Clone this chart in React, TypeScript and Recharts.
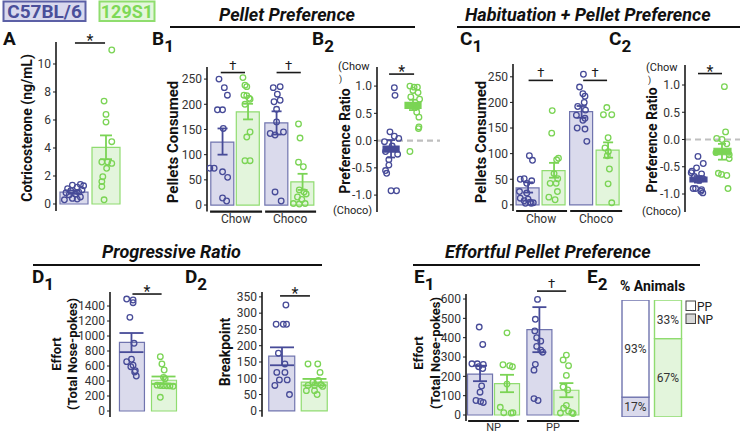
import React from "react";
import {
  ComposedChart,
  BarChart,
  Bar,
  Scatter,
  XAxis,
  YAxis,
  ErrorBar,
  ReferenceLine,
  Cell,
  LabelList,
} from "recharts";

const FONT = "Roboto, 'Noto Sans', sans-serif";
const INK = "#1a1a1a";
const LINE = ["#474b98", "#7bd455"]; // C57BL/6, 129S1
const FILL = ["#dadaec", "#e3f5dc"];
const EDGE = ["#7074ae", "#90dc70"];

// A - corticosterone
const aC57 = [1.4, 1.35, 1.3, 1.2, 1.1, 1.0, 0.95, 0.85, 0.8, 0.7, 0.65, 0.5, 0.4, 0.35, 0.3];
const aC57Jit = [0.2, -0.05, 0.3, 0.1, -0.2, 0.25, -0.1, 0.15, -0.25, 0.05, -0.15, 0.2, -0.05, 0.1, -0.3];
const aS129 = [11.0, 7.35, 6.4, 5.85, 4.45, 3.0, 3.0, 2.9, 2.55, 1.95, 1.6, 1.25, 0.3];
const aS129Jit = [0.18, -0.06, 0, 0, 0.18, -0.13, 0.05, 0.18, 0.02, -0.1, -0.13, -0.13, -0.06];
const aMeans = [0.85, 4.05];
const aErr = [[0.12, 0.12], [0.85, 0.85]];

// B1 - pellets consumed
const b1C57Chow = [250, 233, 218, 189, 189, 152, 73, 73, 66, 55, 14, 8];
const b1C57ChowJit = [-0.14, 0.07, 0.19, -0.2, 0, 0.03, -0.5, -0.33, 0, 0.2, 0, 0.16];
const b1S129Chow = [253, 238, 235, 218, 217, 212, 210, 200, 145, 135, 88, 88];
const b1S129ChowJit = [-0.2, -0.12, -0.05, -0.16, -0.05, 0.04, 0.08, -0.12, 0.08, -0.05, -0.12, 0.08];
const b1C57Choco = [235, 233, 220, 208, 205, 190, 165, 145, 142, 139, 26, 8];
const b1C57ChocoJit = [0.14, -0.13, 0.03, 0.14, -0.1, 0, 0, 0.27, -0.25, -0.06, -0.06, 0.18];
const b1S129Choco = [161, 133, 85, 76, 30, 26, 22, 16, 11, 3, 2, 3];
const b1S129ChocoJit = [-0.16, -0.1, -0.16, 0.03, -0.13, 0.06, 0.14, -0.2, -0.03, -0.36, -0.13, 0.1];
const b1Means = [125, 185, 163, 46];
const b1Err = [[25, 27], [15, 16], [23, 23], [16, 16]];

// B2 - preference ratio
const b2C57 = [0.97, 0.83, 0.16, 0.08, 0.04, -0.02, -0.1, -0.2, -0.25, -0.35, -0.45, -0.55, -0.6, -0.92, -0.92];
const b2C57Jit = [0.15, 0.18, -0.05, 0.15, 0.35, -0.3, 0.05, -0.25, 0.3, -0.1, -0.1, -0.25, -0.2, 0, 0.25];
const b2S129 = [1.0, 0.98, 0.98, 0.92, 0.88, 0.8, 0.76, 0.62, 0.52, 0.43, 0.25, 0.22, -0.2];
const b2S129Jit = [-0.14, 0.05, 0.2, 0, 0.23, -0.1, 0.3, 0.2, 0.17, 0.27, 0.27, 0.25, -0.14];
const b2Boxes = [[-0.21, -0.1], [0.59, 0.7]];
const b2Means = [-0.15, 0.65];
const b2Err = [[0.16, 0.16], [0.09, 0.1]];

// C1 - pellets consumed after habituation
const c1C57Chow = [96, 87, 51, 50, 47, 42, 26, 23, 13, 11, 8, 5, 4, 3, 3];
const c1C57ChowJit = [0.05, 0.17, -0.15, -0.3, 0.14, -0.05, -0.33, -0.05, -0.3, 0, -0.15, 0.08, 0.2, -0.1, 0.12];
const c1S129Chow = [184, 140, 91, 88, 61, 51, 42, 42, 26, 15, 10];
const c1S129ChowJit = [-0.07, -0.09, 0.17, 0.1, 0, 0.14, -0.15, 0.08, 0.13, -0.2, 0.04];
const c1C57Choco = [255, 230, 217, 212, 200, 192, 185, 175, 169, 165, 150, 148, 124];
const c1C57ChocoJit = [0.07, -0.08, 0.05, 0.13, 0.1, -0.15, 0.15, -0.2, 0.13, 0.05, -0.17, 0.13, 0.2];
const c1S129Choco = [190, 176, 176, 131, 111, 104, 96, 70, 41, 4];
const c1S129ChocoJit = [-0.05, -0.18, 0.14, 0, -0.12, 0.01, -0.03, 0.05, 0, 0.14];
const c1Means = [33, 67, 182, 107];
const c1Err = [[9, 11], [14, 15], [12, 11], [15, 15]];

// C2 - preference ratio after habituation
const c2C57 = [-0.31, -0.44, -0.52, -0.58, -0.61, -0.63, -0.68, -0.72, -0.75, -0.9, -0.9, -0.92, -0.95, -0.98];
const c2C57Jit = [0, 0.22, -0.06, -0.25, -0.28, 0.15, -0.15, 0.2, 0.05, -0.2, -0.1, 0.15, 0.12, 0.2];
const c2S129 = [0.97, 0.14, 0.02, 0.0, -0.08, -0.24, -0.28, -0.35, -0.62, -0.64, -0.66, -0.9];
const c2S129Jit = [0.1, 0.15, -0.22, 0, 0.2, -0.25, 0.3, 0.3, -0.15, -0.02, 0.2, 0.25];
const c2Boxes = [[-0.78, -0.69], [-0.28, -0.16]];
const c2Means = [-0.73, -0.22];
const c2Err = [[0.06, 0.06], [0.15, 0.14]];

// D1 - progressive ratio effort
const d1C57 = [1493, 1480, 1444, 1249, 903, 690, 658, 610, 591, 537, 520, 467];
const d1C57Jit = [-0.15, 0.05, 0.05, -0.05, 0.08, 0, -0.15, 0.05, -0.02, 0.12, 0.1, 0.15];
const d1S129 = [724, 627, 547, 449, 430, 345, 340, 338, 336, 335, 330, 183];
const d1S129Jit = [-0.1, -0.05, 0.02, 0, 0.05, -0.2, -0.1, 0, 0.1, 0.2, 0.3, -0.1];
const d1Means = [915, 410];
const d1Err = [[130, 125], [50, 50]];

// D2 - breakpoint
const d2C57 = [325, 266, 266, 266, 177, 144, 118, 118, 95, 95, 78, 50];
const d2C57Jit = [0.12, -0.18, 0.04, 0.14, -0.11, 0.09, -0.16, 0.09, -0.08, 0.16, -0.22, 0.23];
const d2S129 = [144, 144, 118, 93, 88, 80, 78, 78, 75, 62, 62, 50];
const d2S129Jit = [-0.2, 0.1, 0.17, 0.12, -0.05, 0.2, -0.2, 0, 0.25, -0.25, 0, 0.08];
const d2Means = [168, 88];
const d2Err = [[28, 27], [10, 10]];

// E1 - effortful pellet preference
const e1C57NP = [455, 365, 265, 265, 262, 250, 240, 150, 118, 75, 70, 65];
const e1C57NPJit = [-0.03, 0.1, -0.3, -0.1, 0.12, -0.05, 0.1, 0.06, 0, -0.15, 0.02, 0.12];
const e1S129NP = [425, 260, 255, 250, 160, 40, 12, 12, 10];
const e1S129NPJit = [0, -0.15, 0.1, 0.2, 0, -0.25, -0.12, 0.22, 0.15];
const e1C57PP = [598, 495, 435, 400, 382, 355, 335, 325, 262, 232, 85, 75];
const e1C57PPJit = [-0.07, -0.15, -0.17, -0.1, 0.05, -0.1, 0.05, 0.12, -0.15, -0.2, -0.2, -0.05];
const e1S129PP = [310, 285, 255, 205, 145, 130, 50, 35, 20, 12, 10, 8];
const e1S129PPJit = [0, -0.12, 0.08, 0, -0.12, 0.05, 0, -0.1, 0.08, 0.2, -0.22, 0.25];
const e1Means = [212, 162, 442, 128];
const e1Err = [[37, 43], [44, 46], [117, 116], [36, 37]];

// E2 - % animals
const e2Strains = ["C57BL/6", "129S1"];
const e2NP = [17, 67];
const e2PP = [83, 33];
const e2NPLabels = ["17%", "67%"];
const e2PPLabels = ["93%", "33%"];

const pair = [0, 1];
const quad = [0, 1, 0, 1];

const rowsOf = (pos: number[], means: number[], errs: number[][], strains: number[], boxes?: number[][]) =>
  pos.map((x, i) => ({ x, mean: means[i], err: errs[i], box: boxes ? boxes[i] : undefined, strain: strains[i] }));

const ptsOf = (center: number, vals: number[], jit: number[], strain: number) => ({
  strain,
  pts: vals.map((y, i) => ({ x: center + jit[i], y })),
});

const Panel = (p: any) => {
  const MT = 18, MR = 4, MB = 0, YW = 42;
  const XH = p.catTicks ? 16 : 0;
  return (
    <div style={{ position: "absolute", left: p.plotLeft - YW, top: p.plotTop - MT }}>
      <ComposedChart
        width={YW + p.plotW + MR}
        height={MT + p.plotH + XH + MB}
        data={p.rows}
        margin={{ top: MT, right: MR, bottom: MB, left: 0 }}
      >
        <XAxis
          dataKey="x"
          type="number"
          domain={p.xDomain}
          allowDataOverflow
          hide={!p.catTicks}
          ticks={p.catTicks}
          interval={0}
          tickFormatter={(v: any, i: number) => (p.catLabels ? p.catLabels[i] : "")}
          axisLine={false}
          tickLine={false}
          tickSize={p.catGap ?? 3}
          tickMargin={0}
          height={XH}
          tick={{ fontSize: p.catFont ?? 12, fill: "#333", fontFamily: FONT }}
        />
        <XAxis xAxisId="p" dataKey="x" type="number" domain={p.xDomain} allowDataOverflow hide />
        <YAxis
          type="number"
          domain={p.yDomain}
          allowDataOverflow
          ticks={p.yTicks}
          interval={0}
          width={YW}
          tickSize={3}
          tickFormatter={p.tickFmt}
          axisLine={{ stroke: INK, strokeWidth: 1.6 }}
          tickLine={{ stroke: INK }}
          tick={{ fontSize: 12, fill: "#333", fontFamily: FONT }}
        />
        {p.zeroLine && <ReferenceLine y={0} stroke="#bfbfbf" strokeWidth={2.2} strokeDasharray="6 4" />}
        <Bar dataKey={p.floating ? "box" : "mean"} barSize={p.barSize} isAnimationActive={false}>
          {p.rows.map((r: any, i: number) => (
            <Cell
              key={i}
              fill={p.floating ? LINE[r.strain] : FILL[r.strain]}
              stroke={p.floating ? LINE[r.strain] : EDGE[r.strain]}
              strokeWidth={1.2}
            />
          ))}
        </Bar>
        {p.points.map((g: any, gi: number) => (
          <Scatter
            key={"p" + gi}
            xAxisId="p"
            data={g.pts}
            dataKey="y"
            isAnimationActive={false}
            shape={(s: any) => (
              <circle cx={s.cx} cy={s.cy} r={2.8} fill="none" stroke={LINE[g.strain]} strokeWidth={1.3} />
            )}
          />
        ))}
        {pair.map((s) => (
          <Scatter
            key={"e" + s}
            xAxisId="p"
            data={p.rows.filter((r: any) => r.strain === s)}
            dataKey="mean"
            isAnimationActive={false}
            shape={() => <g />}
          >
            <ErrorBar dataKey="err" direction="y" width={p.cap} stroke={LINE[s]} strokeWidth={1.8} />
          </Scatter>
        ))}
        {(p.brackets || []).map((b: number[], i: number) => (
          <ReferenceLine
            key={"b" + i}
            segment={[{ x: b[0], y: p.yDomain[0] }, { x: b[1], y: p.yDomain[0] }]}
            stroke={INK}
            strokeWidth={2.2}
            ifOverflow="visible"
          />
        ))}
        {p.sigs.map((s: any, i: number) => (
          <ReferenceLine
            key={"s" + i}
            segment={[{ x: s.x1, y: s.y }, { x: s.x2, y: s.y }]}
            stroke={INK}
            strokeWidth={1.6}
            ifOverflow="visible"
            label={{
              value: s.mark,
              position: "top",
              offset: s.mark === "*" ? -3 : 3,
              fontSize: s.mark === "*" ? 16 : 13,
              fill: INK,
              fontFamily: FONT,
            }}
          />
        ))}
      </ComposedChart>
    </div>
  );
};

const ratioFmt = (v: number) => v.toFixed(1);

const Letter = ({ x, y, l, s }: any) => (
  <text x={x} y={y} fontSize={19} fontWeight={700} fill="#111">
    {l}
    {s && (
      <tspan fontSize={17} dy={7}>
        {s}
      </tspan>
    )}
  </text>
);

const VTitle = ({ x, y, size, children }: any) => (
  <text
    x={x}
    y={y}
    transform={`rotate(-90 ${x} ${y})`}
    textAnchor="middle"
    dominantBaseline="central"
    fontSize={size}
    fontWeight={700}
    fill="#111"
  >
    {children}
  </text>
);

const e2Rows = e2Strains.map((g, i) => ({ g, np: e2NP[i], pp: e2PP[i], npLabel: e2NPLabels[i], ppLabel: e2PPLabels[i] }));

export default function App() {
  return (
    <div
      style={{
        position: "absolute",
        left: 0,
        top: 0,
        width: 740,
        height: 434,
        background: "#fff",
        overflow: "hidden",
        fontFamily: FONT,
      }}
    >
      <Panel
        plotLeft={56} plotTop={42} plotW={70} plotH={169}
        xDomain={[-0.5625, 1.625]} yDomain={[-0.5, 11.571]} yTicks={[0, 2, 4, 6, 8, 10]}
        rows={rowsOf([0, 1], aMeans, aErr, pair)}
        points={[ptsOf(0, aC57, aC57Jit, 0), ptsOf(1, aS129, aS129Jit, 1)]}
        barSize={28} cap={6}
        sigs={[{ x1: 0.03, x2: 0.97, y: 11.5, mark: "*" }]}
      />
      <Panel
        plotLeft={207} plotTop={67} plotW={111} plotH={144.6}
        xDomain={[-0.61, 3.745]} yDomain={[-13, 274]} yTicks={[0, 50, 100, 150, 200, 250]}
        rows={rowsOf([0, 1, 2.12, 3.14], b1Means, b1Err, quad)}
        points={[
          ptsOf(0, b1C57Chow, b1C57ChowJit, 0),
          ptsOf(1, b1S129Chow, b1S129ChowJit, 1),
          ptsOf(2.12, b1C57Choco, b1C57ChocoJit, 0),
          ptsOf(3.14, b1S129Choco, b1S129ChocoJit, 1),
        ]}
        barSize={23} cap={5}
        brackets={[[-0.49, 1.55], [1.67, 3.67]]} catTicks={[0.53, 2.65]} catLabels={["Chow", "Choco"]}
        sigs={[{ x1: -0.07, x2: 0.88, y: 263, mark: "†" }, { x1: 2.12, x2: 3.07, y: 263, mark: "†" }]}
      />
      <Panel
        plotLeft={377} plotTop={67} plotW={63} plotH={145}
        xDomain={[-0.64, 2.23]} yDomain={[-1.31, 1.35]} yTicks={[-1, -0.5, 0, 0.5, 1]} tickFmt={ratioFmt}
        rows={rowsOf([0, 1], b2Means, b2Err, pair, b2Boxes)}
        points={[ptsOf(0, b2C57, b2C57Jit, 0), ptsOf(1, b2S129, b2S129Jit, 1)]}
        barSize={16} cap={4} floating zeroLine
        sigs={[{ x1: -0.09, x2: 1.05, y: 1.22, mark: "*" }]}
      />
      <Panel
        plotLeft={513} plotTop={64} plotW={112} plotH={147}
        xDomain={[-0.58, 3.73]} yDomain={[-12, 275]} yTicks={[0, 50, 100, 150, 200, 250]}
        rows={rowsOf([0, 1, 2.06, 3.08], c1Means, c1Err, quad)}
        points={[
          ptsOf(0, c1C57Chow, c1C57ChowJit, 0),
          ptsOf(1, c1S129Chow, c1S129ChowJit, 1),
          ptsOf(2.06, c1C57Choco, c1C57ChocoJit, 0),
          ptsOf(3.08, c1S129Choco, c1S129ChocoJit, 1),
        ]}
        barSize={23} cap={5}
        brackets={[[-0.46, 1.5], [1.62, 3.62]]} catTicks={[0.5, 2.62]} catLabels={["Chow", "Choco"]}
        sigs={[{ x1: 0.02, x2: 0.96, y: 243, mark: "†" }, { x1: 2.12, x2: 3.04, y: 243, mark: "†" }]}
      />
      <Panel
        plotLeft={685} plotTop={65} plotW={55} plotH={147}
        xDomain={[-0.54, 1.75]} yDomain={[-1.33, 1.367]} yTicks={[-1, -0.5, 0, 0.5, 1]} tickFmt={ratioFmt}
        rows={rowsOf([0, 1], c2Means, c2Err, pair, c2Boxes)}
        points={[ptsOf(0, c2C57, c2C57Jit, 0), ptsOf(1, c2S129, c2S129Jit, 1)]}
        barSize={17} cap={4} floating zeroLine
        sigs={[{ x1: 0, x2: 1, y: 1.21, mark: "*" }]}
      />
      <Panel
        plotLeft={110} plotTop={292} plotW={75} plotH={125}
        xDomain={[-0.67, 1.67]} yDomain={[-80, 1587]} yTicks={[0, 200, 400, 600, 800, 1000, 1200, 1400]}
        rows={rowsOf([0, 1], d1Means, d1Err, pair)}
        points={[ptsOf(0, d1C57, d1C57Jit, 0), ptsOf(1, d1S129, d1S129Jit, 1)]}
        barSize={25} cap={12}
        sigs={[{ x1: 0.03, x2: 0.94, y: 1560, mark: "*" }]}
      />
      <Panel
        plotLeft={262} plotTop={292} plotW={73} plotH={124.7}
        xDomain={[-0.615, 1.63]} yDomain={[-18, 365]} yTicks={[0, 50, 100, 150, 200, 250, 300, 350]}
        rows={rowsOf([0, 1], d2Means, d2Err, pair)}
        points={[ptsOf(0, d2C57, d2C57Jit, 0), ptsOf(1, d2S129, d2S129Jit, 1)]}
        barSize={26} cap={12}
        sigs={[{ x1: -0.06, x2: 0.86, y: 353, mark: "*" }]}
      />
      <Panel
        plotLeft={466} plotTop={294} plotW={119} plotH={127}
        xDomain={[-0.52, 3.89]} yDomain={[-31, 626]} yTicks={[0, 100, 200, 300, 400, 500, 600]}
        rows={rowsOf([0, 1, 2.2, 3.2], e1Means, e1Err, quad)}
        points={[
          ptsOf(0, e1C57NP, e1C57NPJit, 0),
          ptsOf(1, e1S129NP, e1S129NPJit, 1),
          ptsOf(2.2, e1C57PP, e1C57PPJit, 0),
          ptsOf(3.2, e1S129PP, e1S129PPJit, 1),
        ]}
        barSize={25} cap={7}
        brackets={[[-0.44, 1.44], [1.74, 3.67]]} catTicks={[0.5, 2.7]} catLabels={["NP", "PP"]}
        catGap={2} catFont={11}
        sigs={[{ x1: 2.11, x2: 3.19, y: 641, mark: "†" }]}
      />

      <div style={{ position: "absolute", left: 619.25, top: 300 }}>
        <BarChart width={65} height={117} data={e2Rows} margin={{ top: 0, right: 0, bottom: 0, left: 0 }}>
          <XAxis dataKey="g" hide />
          <YAxis type="number" domain={[0, 100]} allowDataOverflow hide />
          <Bar dataKey="np" stackId="s" barSize={27} isAnimationActive={false}>
            {e2Rows.map((r, i) => (
              <Cell key={i} fill={FILL[i]} stroke={EDGE[i]} strokeWidth={1.4} />
            ))}
            <LabelList dataKey="npLabel" position="center" fontSize={12} fill="#333" fontFamily={FONT} />
          </Bar>
          <Bar dataKey="pp" stackId="s" barSize={27} isAnimationActive={false}>
            {e2Rows.map((r, i) => (
              <Cell key={i} fill="#ffffff" stroke={EDGE[i]} strokeWidth={1.4} />
            ))}
            <LabelList dataKey="ppLabel" position="center" fontSize={12} fill="#333" fontFamily={FONT} />
          </Bar>
        </BarChart>
      </div>

      <svg
        width={740}
        height={434}
        style={{ position: "absolute", left: 0, top: 0, pointerEvents: "none" }}
        fontFamily={FONT}
      >
        <rect x={3.5} y={1.5} width={82} height={19.5} fill="#d9d9ee" stroke="#5c60a6" strokeWidth={2} />
        <text x={44.5} y={18} textAnchor="middle" fontSize={19} fontWeight={700} fill="#4a4f9a">C57BL/6</text>
        <rect x={99.5} y={1.5} width={55} height={19.5} fill="#e4f6dc" stroke="#8fdd6e" strokeWidth={2} />
        <text x={127} y={18} textAnchor="middle" fontSize={18} fontWeight={700} fill="#7ed957">129S1</text>

        <g fontSize={18} fontWeight={700} fontStyle="italic" fill="#111">
          <text x={219} y={21}>Pellet Preference</text>
          <text x={465} y={21}>Habituation + Pellet Preference</text>
          <text x={102} y={258}>Progressive Ratio</text>
          <text x={445} y={258}>Effortful Pellet Preference</text>
        </g>
        <g stroke="#111" strokeWidth={2}>
          <line x1={170} x2={415} y1={27} y2={27} />
          <line x1={457} x2={740} y1={27} y2={27} />
          <line x1={33} x2={322} y1={265} y2={265} />
          <line x1={413} x2={700} y1={265} y2={265} />
        </g>

        <Letter x={3} y={45} l="A" />
        <Letter x={152} y={45} l="B" s="1" />
        <Letter x={312} y={45} l="B" s="2" />
        <Letter x={460} y={45} l="C" s="1" />
        <Letter x={609} y={45} l="C" s="2" />
        <Letter x={32} y={283} l="D" s="1" />
        <Letter x={185} y={283} l="D" s="2" />
        <Letter x={414} y={283} l="E" s="1" />
        <Letter x={587} y={283} l="E" s="2" />

        <VTitle x={27} y={128} size={14}>Cotricosterone (ng/mL)</VTitle>
        <VTitle x={173} y={142} size={15}>Pellets Consumed</VTitle>
        <VTitle x={345} y={141} size={14}>Preference Ratio</VTitle>
        <VTitle x={481} y={142} size={15}>Pellets Consumed</VTitle>
        <VTitle x={652} y={140} size={14}>Preference Ratio</VTitle>
        <VTitle x={56} y={354} size={13}>Effort</VTitle>
        <VTitle x={72} y={354} size={13}>(Total Nose-pokes)</VTitle>
        <VTitle x={225} y={352} size={14}>Breakpoint</VTitle>
        <VTitle x={418} y={353} size={13}>Effort</VTitle>
        <VTitle x={435} y={353} size={13}>(Total Nose-pokes)</VTitle>

        <g fontSize={11} fill="#222">
          <text x={338} y={70}>(Chow</text>
          <text x={339} y={82} fontSize={9}>)</text>
          <text x={333} y={214}>(Choco)</text>
          <text x={646} y={71}>(Chow</text>
          <text x={648} y={83} fontSize={9}>)</text>
          <text x={642} y={215}>(Choco)</text>
        </g>

        <text x={620} y={291} fontSize={14} fontWeight={700} fill="#111">% Animals</text>
        <rect x={686} y={301} width={9.5} height={9.5} fill="#fff" stroke="#444" strokeWidth={1} />
        <rect x={686} y={314} width={9.5} height={9.5} fill="#d8d8d8" stroke="#444" strokeWidth={1} />
        <text x={697} y={310.5} fontSize={12} fill="#222">PP</text>
        <text x={697} y={323.5} fontSize={12} fill="#222">NP</text>
      </svg>
    </div>
  );
}
